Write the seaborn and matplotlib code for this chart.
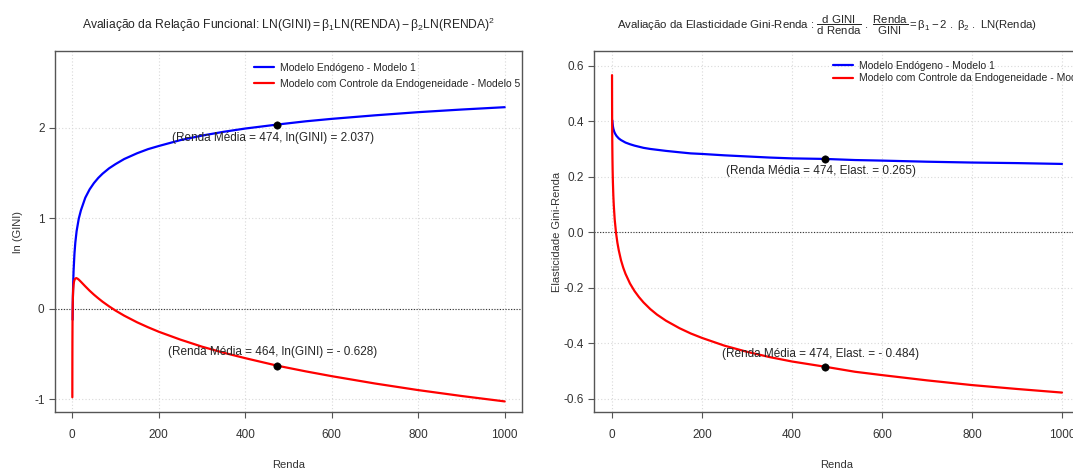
import numpy as np
import pandas as pd
import matplotlib
matplotlib.use("Agg")
import matplotlib.pyplot as plt
import seaborn as sns

# valores (Renda x ln(GINI) e elasticidade)
renda_m1 = [0.75, 0.85, 1, 1.4, 2, 3, 5, 7, 10, 15, 20, 30, 40, 50, 60, 70, 85, 100, 120, 150, 175,
            200, 250, 300, 350, 400, 474, 540, 600, 700, 800, 900, 1000]
lngini_m1 = [-0.12, -0.065, 0.0, 0.133, 0.27, 0.424, 0.61, 0.733, 0.86, 0.998, 1.09, 1.228, 1.32,
             1.39, 1.447, 1.494, 1.553, 1.60, 1.656, 1.72, 1.765, 1.80, 1.865, 1.915, 1.957, 1.993,
             2.037, 2.073, 2.10, 2.139, 2.174, 2.203, 2.229]
elast_m1 = [0.404, 0.402, 0.398, 0.391, 0.383, 0.374, 0.363, 0.356, 0.348, 0.339, 0.333, 0.324,
            0.318, 0.313, 0.309, 0.305, 0.301, 0.298, 0.294, 0.289, 0.285, 0.283, 0.278, 0.274,
            0.270, 0.267, 0.265, 0.261, 0.259, 0.255, 0.252, 0.250, 0.247]

renda_m5 = [0.085, 0.12, 0.2, 0.3, 0.5, 0.7, 1, 1.4, 2, 3, 4, 6, 9, 12, 15, 20, 25, 30, 40, 50, 60,
            70, 85, 100, 120, 150, 175, 200, 250, 300, 350, 400, 474, 540, 600, 700, 800, 900, 1000]
lngini_m5 = [-0.977, -0.788, -0.536, -0.358, -0.163, -0.053, 0.05, 0.132, 0.205, 0.268, 0.302,
             0.331, 0.34, 0.334, 0.323, 0.299, 0.274, 0.249, 0.201, 0.157, 0.117, 0.079, 0.028,
             -0.019, -0.075, -0.149, -0.203, -0.253, -0.340, -0.418, -0.485, -0.545, -0.628,
             -0.691, -0.744, -0.825, -0.898, -0.963, -1.023]
elast_m5 = [0.567, 0.525, 0.462, 0.413, 0.351, 0.310, 0.266, 0.225, 0.181, 0.132, 0.097, 0.047,
            -0.002, -0.037, -0.064, -0.100, -0.127, -0.149, -0.184, -0.211, -0.233, -0.252,
            -0.276, -0.296, -0.318, -0.345, -0.364, -0.380, -0.408, -0.430, -0.449, -0.465,
            -0.484, -0.502, -0.514, -0.533, -0.550, -0.564, -0.577]

renda_media = 474
ponto_lngini = [2.037, -0.628]
ponto_elast = [0.265, -0.484]
rotulos_lngini = ["(Renda Média = 474, ln(GINI) = 2.037)", "(Renda Média = 464, ln(GINI) = - 0.628)"]
rotulos_elast = ["(Renda Média = 474, Elast. = 0.265)", "(Renda Média = 474, Elast. = - 0.484)"]
nomes = ["Modelo Endógeno - Modelo 1", "Modelo com Controle da Endogeneidade - Modelo 5"]
cores = ["#0000FF", "#FF0000"]

sns.set_style("ticks")
plt.rcParams["font.family"] = ["Liberation Sans", "DejaVu Sans"]
plt.rcParams["mathtext.fontset"] = "custom"
plt.rcParams["mathtext.rm"] = "Liberation Sans"
plt.rcParams["mathtext.it"] = "Liberation Sans"
plt.rcParams["mathtext.bf"] = "Liberation Sans:bold"
plt.rcParams["axes.unicode_minus"] = False

fig = plt.figure(figsize=(10.73, 4.69), dpi=100)
ax1 = fig.add_axes([55 / 1073, 57 / 469, 467 / 1073, 361 / 469])
ax2 = fig.add_axes([594 / 1073, 57 / 469, 486 / 1073, 361 / 469])


def estilo(ax, yticks, fmt):
    ax.set_xlim(-40, 1040)
    ax.set_xticks(range(0, 1001, 200))
    ax.set_yticks(yticks)
    ax.set_yticklabels([fmt.format(v) for v in yticks])
    for v in range(0, 1001, 200):
        ax.axvline(v, color="#d9d9d9", lw=0.8, ls=(0, (1, 2)), zorder=0)
    for v in yticks:
        ax.axhline(v, color="#d9d9d9", lw=0.8, ls=(0, (1, 2)), zorder=0)
    ax.axhline(0, color="#333333", lw=0.8, ls=(0, (1, 1.5)), zorder=1)
    for s in ax.spines.values():
        s.set_color("#555555")
        s.set_linewidth(1.0)
    ax.tick_params(axis="both", colors="#555555", labelcolor="#333333", labelsize=8.5,
                   length=4, width=0.8)
    ax.tick_params(axis="x", pad=8)
    ax.set_xlabel("Renda", fontsize=8, color="#333333", labelpad=14)


# painel 1
df1 = pd.DataFrame({"Renda": renda_m1, "v": lngini_m1})
df5 = pd.DataFrame({"Renda": renda_m5, "v": lngini_m5})
sns.lineplot(data=df1, x="Renda", y="v", color=cores[0], lw=1.6, label=nomes[0], ax=ax1)
sns.lineplot(data=df5, x="Renda", y="v", color=cores[1], lw=1.6, label=nomes[1], ax=ax1)
sns.scatterplot(x=[renda_media] * 2, y=ponto_lngini, color="black", s=28, zorder=5, ax=ax1,
                edgecolor="black", legend=False)
ax1.set_ylim(-1.14, 2.85)
estilo(ax1, [-1, 0, 1, 2], "{:g}")
ax1.set_ylabel("ln (GINI)", fontsize=8, color="#333333", labelpad=8)
ax1.annotate(rotulos_lngini[0], (464, ponto_lngini[0]), xytext=(0, -10), textcoords="offset points",
             ha="center", va="center", fontsize=8.5)
ax1.annotate(rotulos_lngini[1], (464, ponto_lngini[1]), xytext=(0, 10), textcoords="offset points",
             ha="center", va="center", fontsize=8.5)
ax1.legend(loc="upper left", bbox_to_anchor=(0.418, 0.978), frameon=False, fontsize=7.5,
           handlelength=1.9, handletextpad=0.6, labelspacing=0.55, borderaxespad=0)
ax1.set_title(r"Avaliação da Relação Funcional: $\mathrm{LN(GINI)} = \beta_1\mathrm{LN(RENDA)} - "
              r"\beta_2\mathrm{LN(RENDA)}^2$", fontsize=8.7, pad=16)

# painel 2
de1 = pd.DataFrame({"Renda": renda_m1, "v": elast_m1})
de5 = pd.DataFrame({"Renda": renda_m5, "v": elast_m5})
sns.lineplot(data=de1, x="Renda", y="v", color=cores[0], lw=1.6, label=nomes[0], ax=ax2)
sns.lineplot(data=de5, x="Renda", y="v", color=cores[1], lw=1.6, label=nomes[1], ax=ax2)
sns.scatterplot(x=[renda_media] * 2, y=ponto_elast, color="black", s=28, zorder=5, ax=ax2,
                edgecolor="black", legend=False)
ax2.set_ylim(-0.647, 0.654)
estilo(ax2, [-0.6, -0.4, -0.2, 0.0, 0.2, 0.4, 0.6], "{:.1f}")
ax2.set_ylabel("Elasticidade Gini-Renda", fontsize=8, color="#333333", labelpad=1)
ax2.annotate(rotulos_elast[0], (464, ponto_elast[0]), xytext=(0, -9), textcoords="offset points",
             ha="center", va="center", fontsize=8.5)
ax2.annotate(rotulos_elast[1], (464, ponto_elast[1]), xytext=(0, 9.5), textcoords="offset points",
             ha="center", va="center", fontsize=8.5)
ax2.legend(loc="upper left", bbox_to_anchor=(0.484, 0.985), frameon=False, fontsize=7.5,
           handlelength=1.9, handletextpad=0.6, labelspacing=0.25, borderaxespad=0)
ax2.set_title(r"Avaliação da Elasticidade Gini-Renda : $\dfrac{\mathrm{d\ GINI}}{\mathrm{d\ Renda}}\ .\ "
              r"\dfrac{\mathrm{Renda}}{\mathrm{GINI}} = \beta_1 - 2\ .\ \beta_2\ .\ \mathrm{LN(Renda)}$",
              fontsize=8.2, pad=16, x=0.48)

fig.savefig("out.png", dpi=100)
